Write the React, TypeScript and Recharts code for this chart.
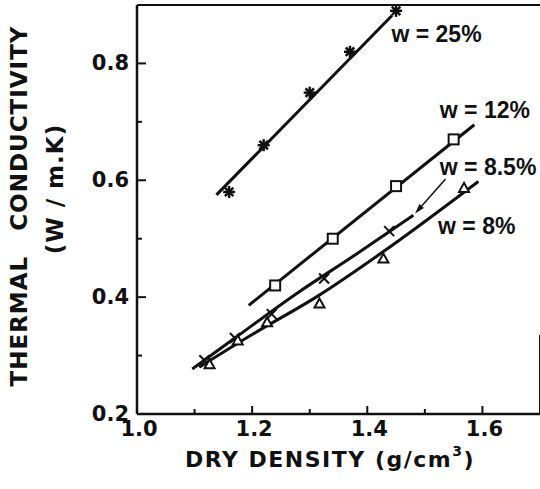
import {
  ComposedChart,
  Line,
  Scatter,
  XAxis,
  YAxis,
  ReferenceLine,
  ReferenceDot,
} from 'recharts'

// measured points (dry density g/cm3 -> thermal conductivity W/m.K)
const w25Density = [1.16, 1.22, 1.30, 1.37, 1.45]
const w25K = [0.58, 0.66, 0.75, 0.82, 0.89]
const w12Density = [1.24, 1.34, 1.45, 1.55]
const w12K = [0.42, 0.50, 0.59, 0.67]
const w85Density = [1.117, 1.17, 1.234, 1.325, 1.438]
const w85K = [0.292, 0.33, 0.371, 0.432, 0.513]
const w8Density = [1.126, 1.175, 1.226, 1.317, 1.428, 1.568]
const w8K = [0.285, 0.326, 0.357, 0.389, 0.466, 0.587]

// fitted curves as drawn in the figure
const w25FitDensity = [1.138, 1.443]
const w25FitK = [0.575, 0.882]
const w12FitDensity = [1.194, 1.586]
const w12FitK = [0.386, 0.695]
const w85FitDensity = [1.096, 1.17, 1.28, 1.38, 1.48]
const w85FitK = [0.277, 0.33, 0.408, 0.473, 0.54]
const w8FitDensity = [1.108, 1.2, 1.316, 1.428, 1.593]
const w8FitK = [0.28, 0.336, 0.403, 0.478, 0.598]

const xMajorTicks = [1.0, 1.2, 1.4, 1.6]
const xMinorTicks = [1.1, 1.3, 1.5]
const yMajorTicks = [0.2, 0.4, 0.6, 0.8]
const yMinorTicks = [0.3, 0.5, 0.7]

const seriesLabels = ['w = 25%', 'w = 12%', 'w = 8.5%', 'w = 8%']
const labelAt = [
  { x: 1.442, y: 0.851 },
  { x: 1.526, y: 0.72 },
  { x: 1.526, y: 0.623 },
  { x: 1.523, y: 0.521 },
]

const FONT = '"DejaVu Sans", sans-serif'
const LABEL_FONT = '"Liberation Sans", Arial, sans-serif'
const INK = '#111'

const pts = (xs: number[], ys: number[]) => xs.map((x, i) => ({ x, y: ys[i] }))

function XTick({ x, y, payload }: any) {
  const major = xMajorTicks.includes(payload.value)
  return (
    <g>
      <line x1={x} x2={x} y1={y} y2={y - (major ? 8 : 5)} stroke={INK} strokeWidth={2} />
      {major && (
        <text x={x + 2} y={y + 15} textAnchor="middle" dominantBaseline="central"
          fontFamily={FONT} fontWeight="bold" fontSize={21} fill={INK}>
          {payload.value.toFixed(1)}
        </text>
      )}
    </g>
  )
}

function YTick({ x, y, payload }: any) {
  const major = yMajorTicks.includes(payload.value)
  return (
    <g>
      <line x1={x} x2={x + (major ? 9 : 5)} y1={y} y2={y} stroke={INK} strokeWidth={2} />
      {major && (
        <text x={x - 8} y={y} textAnchor="end" dominantBaseline="central"
          fontFamily={FONT} fontWeight="bold" fontSize={21} fill={INK}>
          {payload.value.toFixed(1)}
        </text>
      )}
    </g>
  )
}

const Asterisk = ({ cx, cy }: any) => {
  const r = 6
  const d = r * Math.SQRT1_2
  return (
    <g stroke={INK} strokeWidth={2.5}>
      <line x1={cx - r} y1={cy} x2={cx + r} y2={cy} />
      <line x1={cx} y1={cy - r} x2={cx} y2={cy + r} />
      <line x1={cx - d} y1={cy - d} x2={cx + d} y2={cy + d} />
      <line x1={cx - d} y1={cy + d} x2={cx + d} y2={cy - d} />
    </g>
  )
}

const Square = ({ cx, cy }: any) => (
  <rect x={cx - 5} y={cy - 5} width={10} height={10} fill="#fff" stroke={INK} strokeWidth={2} />
)

const Cross = ({ cx, cy }: any) => (
  <g stroke={INK} strokeWidth={2}>
    <line x1={cx - 5} y1={cy - 5} x2={cx + 5} y2={cy + 5} />
    <line x1={cx - 5} y1={cy + 5} x2={cx + 5} y2={cy - 5} />
  </g>
)

const Triangle = ({ cx, cy }: any) => (
  <polygon points={`${cx},${cy - 5} ${cx - 5},${cy + 4} ${cx + 5},${cy + 4}`}
    fill="#fff" stroke={INK} strokeWidth={2} />
)

const Arrow = ({ x1, y1, x2, y2 }: any) => {
  const a = Math.atan2(y2 - y1, x2 - x1)
  const len = 10
  const w = 3
  const bx = x2 - len * Math.cos(a)
  const by = y2 - len * Math.sin(a)
  const px = -Math.sin(a) * w
  const py = Math.cos(a) * w
  return (
    <g>
      <line x1={x1} y1={y1} x2={bx} y2={by} stroke={INK} strokeWidth={1.5} />
      <polygon points={`${x2},${y2} ${bx + px},${by + py} ${bx - px},${by - py}`} fill={INK} />
    </g>
  )
}

export default function App() {
  const lineProps = {
    dataKey: 'y',
    stroke: INK,
    strokeWidth: 3,
    dot: false,
    activeDot: false,
    isAnimationActive: false,
    legendType: 'none' as const,
  }

  return (
    <div style={{ position: 'absolute', left: 0, top: 0, width: 540, height: 489, background: '#fff' }}>
      <ComposedChart width={540} height={489} margin={{ top: 5, right: 0, bottom: 0, left: 0 }}>
        <XAxis
          type="number"
          dataKey="x"
          domain={[1.0, 1.7]}
          ticks={[...xMajorTicks, ...xMinorTicks].sort()}
          interval={0}
          height={75}
          tickSize={0}
          tickMargin={0}
          tickLine={false}
          tick={<XTick />}
          axisLine={{ stroke: INK, strokeWidth: 2.5 }}
          allowDataOverflow
          label={{
            content: () => (
              <text x={330} y={459} textAnchor="middle" dominantBaseline="central"
                fontFamily={FONT} fontWeight="bold" fontSize={22} fill={INK} letterSpacing={1.5}>
                DRY DENSITY (g/cm
                <tspan fontSize={14} dy={-8}>3</tspan>
                <tspan dy={8}>)</tspan>
              </text>
            ),
          }}
        />
        <YAxis
          type="number"
          domain={[0.2, 0.9]}
          ticks={[...yMajorTicks, ...yMinorTicks].sort()}
          interval={0}
          width={137}
          tickSize={0}
          tickMargin={0}
          tickLine={false}
          tick={<YTick />}
          axisLine={{ stroke: INK, strokeWidth: 2.5 }}
          allowDataOverflow
          label={{
            content: () => (
              <g fontFamily={FONT} fontWeight="bold" fill={INK}>
                <text x={19} y={206} textAnchor="middle" dominantBaseline="central" fontSize={23}
                  wordSpacing={16} letterSpacing={1} transform="rotate(-90 19 206)">
                  THERMAL CONDUCTIVITY
                </text>
                <text x={55} y={189} textAnchor="middle" dominantBaseline="central" fontSize={23}
                  letterSpacing={1} transform="rotate(-90 55 189)">
                  (W / m.K)
                </text>
              </g>
            ),
          }}
        />

        <ReferenceLine y={0.9} stroke={INK} strokeWidth={2} ifOverflow="visible" />
        <ReferenceLine segment={[{ x: 1.7, y: 0.2 }, { x: 1.7, y: 0.335 }]} stroke={INK} strokeWidth={2} ifOverflow="visible" />

        <Line data={pts(w25FitDensity, w25FitK)} type="linear" {...lineProps} />
        <Line data={pts(w12FitDensity, w12FitK)} type="linear" {...lineProps} />
        <Line data={pts(w85FitDensity, w85FitK)} type="monotone" {...lineProps} />
        <Line data={pts(w8FitDensity, w8FitK)} type="monotone" {...lineProps} />

        <Scatter data={pts(w25Density, w25K)} dataKey="y" shape={Asterisk} isAnimationActive={false} />
        <Scatter data={pts(w12Density, w12K)} dataKey="y" shape={Square} isAnimationActive={false} />
        <Scatter data={pts(w85Density, w85K)} dataKey="y" shape={Cross} isAnimationActive={false} />
        <Scatter data={pts(w8Density, w8K)} dataKey="y" shape={Triangle} isAnimationActive={false} />

        <ReferenceLine segment={[{ x: 1.536, y: 0.602 }, { x: 1.483, y: 0.543 }]} shape={Arrow} ifOverflow="visible" />

        {seriesLabels.map((s, i) => (
          <ReferenceDot
            key={s}
            x={labelAt[i].x}
            y={labelAt[i].y}
            ifOverflow="visible"
            shape={(p: any) => (
              <text x={p.cx} y={p.cy} dominantBaseline="central" fontFamily={LABEL_FONT}
                fontWeight="bold" fontSize={23} fill={INK}>
                {s}
              </text>
            )}
          />
        ))}
      </ComposedChart>
    </div>
  )
}
